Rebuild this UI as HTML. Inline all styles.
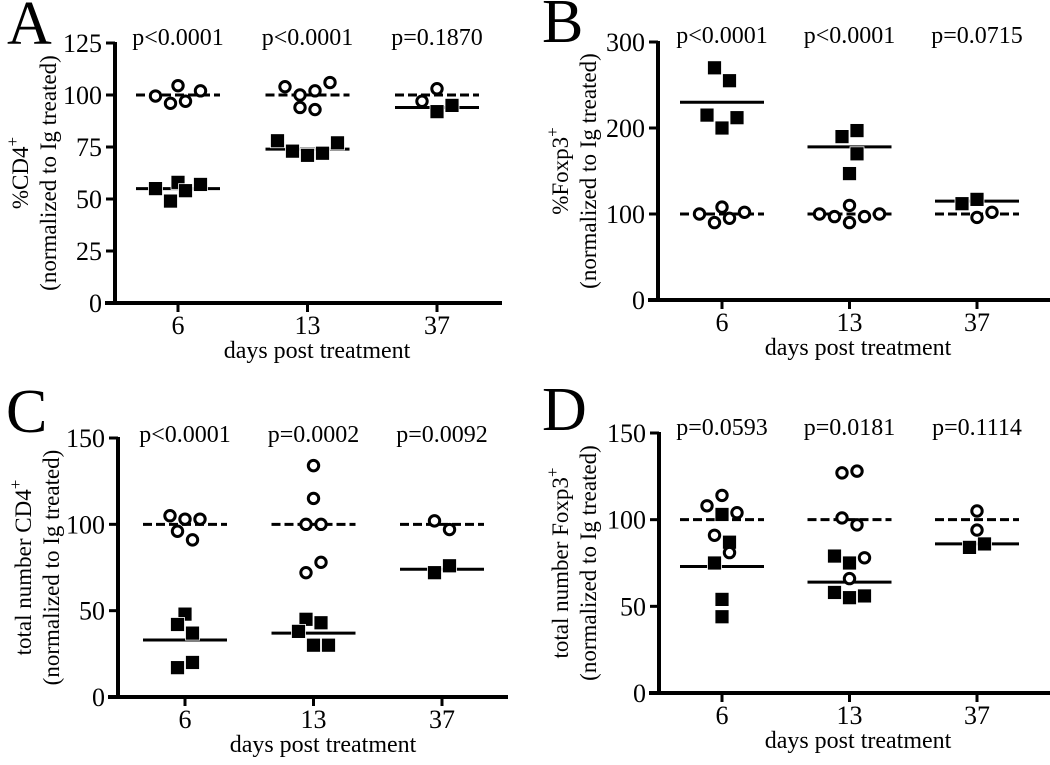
<!DOCTYPE html>
<html><head><meta charset="utf-8"><style>
html,body{margin:0;padding:0;background:#fff;}
svg text{font-family:"Liberation Serif",serif;fill:#000;}
</style></head><body>
<svg id="fig" width="1050" height="760" viewBox="0 0 1050 760" xmlns="http://www.w3.org/2000/svg"></svg>
<script>
// ---- data ----
const categories = ["6","13","37"];
// Panel A
const aTicks = [0,25,50,75,100,125];
const aPvals = ["p<0.0001","p<0.0001","p=0.1870"];
const aCircVals = [[99.5,96,104.5,97,102],[104,100,94,102,93,106],[97,103]];
const aCircJit  = [[-3,-1,0,1,3],[-3,-1,-1,1,1,3],[-2,0]];
const aSqVals   = [[55,49,58,54,57],[78,73,71,72,77],[92,95]];
const aSqJit    = [[-3,-1,0,1,3],[-4,-2,0,2,4],[0,2]];
const aCircMean = [100,100,100];
const aSqMean   = [55,74,94];
// Panel B
const bTicks = [0,100,200,300];
const bPvals = ["p<0.0001","p<0.0001","p=0.0715"];
const bCircVals = [[100,90,108,95,102],[100,97,110,90,97,100],[96,102]];
const bCircJit  = [[-3,-1,0,1,3],[-4,-2,0,0,2,4],[0,2]];
const bSqVals   = [[270,255,215,200,212],[190,197,170,147],[112,117]];
const bSqJit    = [[-1,1,-2,0,2],[-1,1,1,0],[-2,0]];
const bCircMean = [100,100,100];
const bSqMean   = [230,178,115];
// Panel C
const cTicks = [0,50,100,150];
const cPvals = ["p<0.0001","p=0.0002","p=0.0092"];
const cCircVals = [[105,103,103,96,91],[134,115,100,100,72,78],[102,97]];
const cCircJit  = [[-2,0,2,-1,1],[0,0,-1,1,-1,1],[-1,1]];
const cSqVals   = [[48,42,37,17,20],[45,43,38,30,30],[72,76]];
const cSqJit    = [[0,-1,1,-1,1],[-1,1,-2,0,2],[-1,1]];
const cCircMean = [100,100,100];
const cSqMean   = [33,37,74];
// Panel D
const dTicks = [0,50,100,150];
const dPvals = ["p=0.0593","p=0.0181","p=0.1114"];
const dCircVals = [[108,114,104,91,81],[127,128,101,97,78,66],[105,94]];
const dCircJit  = [[-2,0,2,-1,1],[-1,1,-1,1,2,0],[0,0]];
const dSqVals   = [[103,87,75,54,44],[79,75,58,55,56],[84,86]];
const dSqJit    = [[0,1,-1,0,0],[-2,0,-2,0,2],[-1,1]];
const dCircMean = [100,100,100];
const dSqMean   = [73,64,86];

const NS="http://www.w3.org/2000/svg";
const svg=document.getElementById('fig');
function mk(tag,attrs,parent){const e=document.createElementNS(NS,tag);for(const k in attrs)e.setAttribute(k,attrs[k]);(parent||svg).appendChild(e);return e;}

function panel(cfg){
  const g=mk('g',{});
  
  
  const yMax=cfg.ticks[cfg.ticks.length-1];
  const y=v=>cfg.yBot-(v/yMax)*(cfg.yBot-cfg.yTop);
  const x=i=>cfg.c0+i*cfg.step;
  const J=7.5;
  const L=mk('text',{x:cfg.lx,y:cfg.ly,'font-size':62},g);L.textContent=cfg.letter;
  
  
  const ya=mk('line',{x1:cfg.ax,y1:cfg.yTop-1,x2:cfg.ax,y2:cfg.yBot+2,stroke:'#000','stroke-width':4},g);
  
  
  const xa=mk('line',{x1:cfg.ax-10,y1:cfg.yBot,x2:cfg.xEnd,y2:cfg.yBot,stroke:'#000','stroke-width':4},g);
  
  
  cfg.ticks.forEach(t=>{
    mk('line',{x1:cfg.ax-9,y1:y(t),x2:cfg.ax,y2:y(t),stroke:'#000','stroke-width':3},g);
    const tx=mk('text',{x:cfg.ax-13,y:y(t)+9,'font-size':26,'text-anchor':'end'},g);tx.textContent=t;
    
    
  });
  categories.forEach((c,i)=>{
    mk('line',{x1:x(i),y1:cfg.yBot,x2:x(i),y2:cfg.yBot+9,stroke:'#000','stroke-width':3},g);
    const tx=mk('text',{x:x(i),y:cfg.yBot+31,'font-size':26,'text-anchor':'middle'},g);tx.textContent=c;
    
    
    const p=mk('text',{x:x(i),y:cfg.py,'font-size':24,'text-anchor':'middle'},g);p.textContent=cfg.pv[i];
    
    
    const ml=mk('line',{x1:x(i)-42,y1:y(cfg.sm[i]),x2:x(i)+42,y2:y(cfg.sm[i]),stroke:'#000','stroke-width':3},g);
    
    
    const dl=mk('line',{x1:x(i)-42,y1:y(cfg.cm[i]),x2:x(i)+42,y2:y(cfg.cm[i]),stroke:'#000','stroke-width':3,'stroke-dasharray':'9,4'},g);
    
    
    cfg.sv[i].forEach((v,k)=>{
      const r=mk('rect',{x:x(i)+cfg.sj[i][k]*J-7,y:y(v)-7,width:14,height:14,fill:'#000',stroke:'#fff','stroke-width':0.8},g);
      
      
    });
    cfg.cv[i].forEach((v,k)=>{
      const ci=mk('circle',{cx:x(i)+cfg.cj[i][k]*J,cy:y(v),r:5.2,fill:'#fff',stroke:'#000','stroke-width':3},g);
      
      
    });
  });
  const xt=mk('text',{x:cfg.xtx,y:cfg.xty,'font-size':24,'text-anchor':'middle'},g);xt.textContent='days post treatment';
  
  
  const cy=(cfg.yTop+cfg.yBot)/2;
  const t1=mk('text',{x:0,y:0,'font-size':23,'text-anchor':'middle',transform:`translate(${cfg.ytx},${cy}) rotate(-90)`},g);
  t1.textContent=cfg.yt;
  const sup=mk('tspan',{'font-size':17,dy:-10},t1);sup.textContent='+';
  
  
  const t2=mk('text',{x:0,y:0,'font-size':23,'text-anchor':'middle',transform:`translate(${cfg.ytx+28},${cy}) rotate(-90)`},g);
  t2.textContent='(normalized to Ig treated)';
  
  
}
panel({letter:'A',lx:7,ly:44,ax:115,xEnd:502,yTop:43,yBot:303,c0:178,step:129.5,ticks:aTicks,pv:aPvals,py:45,
  cv:aCircVals,cj:aCircJit,sv:aSqVals,sj:aSqJit,cm:aCircMean,sm:aSqMean,xtx:317,xty:358,ytx:28,yt:'%CD4'});
panel({letter:'B',lx:542,ly:42,ax:658,xEnd:1050,yTop:42,yBot:300,c0:722,step:127.5,ticks:bTicks,pv:bPvals,py:43,
  cv:bCircVals,cj:bCircJit,sv:bSqVals,sj:bSqJit,cm:bCircMean,sm:bSqMean,xtx:858,xty:355,ytx:568,yt:'%Foxp3'});
panel({letter:'C',lx:6,ly:432,ax:118,xEnd:508,yTop:438,yBot:697,c0:185,step:128.5,ticks:cTicks,pv:cPvals,py:442,
  cv:cCircVals,cj:cCircJit,sv:cSqVals,sj:cSqJit,cm:cCircMean,sm:cSqMean,xtx:323,xty:752,ytx:31,yt:'total number CD4'});
panel({letter:'D',lx:542,ly:430,ax:659,xEnd:1050,yTop:433,yBot:693,c0:722,step:127.5,ticks:dTicks,pv:dPvals,py:435,
  cv:dCircVals,cj:dCircJit,sv:dSqVals,sj:dSqJit,cm:dCircMean,sm:dSqMean,xtx:858,xty:748,ytx:568,yt:'total number Foxp3'});
</script>
</body></html>
